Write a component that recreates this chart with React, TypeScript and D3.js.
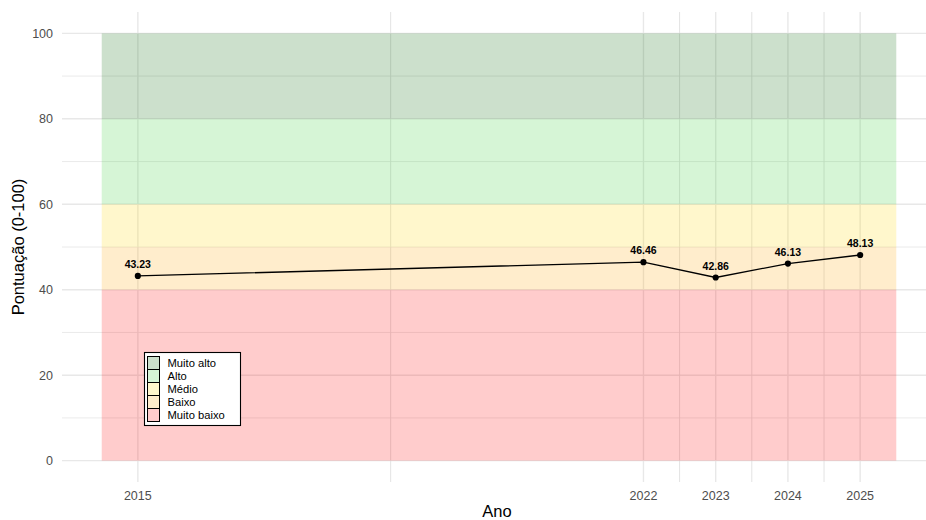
import * as d3 from "d3";

const years = [2015, 2022, 2023, 2024, 2025];
const scores = [43.23, 46.46, 42.86, 46.13, 48.13];

const bandNames = ["Muito alto", "Alto", "Médio", "Baixo", "Muito baixo"];
const bandMin = [80, 60, 50, 40, 0];
const bandMax = [100, 80, 60, 50, 40];
const bandColors = ["#006400", "#32cd32", "#ffd700", "#ffa500", "#ff0000"];

const yTicks = [0, 20, 40, 60, 80, 100];
const yMinor = [10, 30, 50, 70, 90];
const xMinor = [2018.5, 2022.5, 2023.5, 2024.5];

const width = 926;
const height = 520;
const panel = { left: 62, right: 936, top: 12, bottom: 482 };
const font = "Liberation Sans, Arial, sans-serif";

function App() {
  const x = d3
    .scaleLinear()
    .domain([2013.95, 2026.05])
    .range([panel.left, panel.right]);
  const y = d3.scaleLinear().domain([-5, 105]).range([panel.bottom, panel.top]);

  const line = d3
    .line<number>()
    .x((_, i) => x(years[i]))
    .y((d) => y(d));

  const grid = "#e8e8e8";

  return (
    <svg
      width={width}
      height={height}
      style={{ position: "absolute", left: 0, top: 0, fontFamily: font }}
    >
      <rect width={width} height={height} fill="white" />

      {/* grid */}
      {yMinor.map((v) => (
        <line key={"ym" + v} x1={panel.left} x2={panel.right} y1={y(v)} y2={y(v)} stroke={grid} strokeWidth={0.9} />
      ))}
      {yTicks.map((v) => (
        <line key={"y" + v} x1={panel.left} x2={panel.right} y1={y(v)} y2={y(v)} stroke={grid} strokeWidth={1.4} />
      ))}
      {xMinor.map((v) => (
        <line key={"xm" + v} x1={x(v)} x2={x(v)} y1={panel.top} y2={panel.bottom} stroke="#e0e0e0" strokeWidth={0.9} />
      ))}
      {years.map((v) => (
        <line key={"x" + v} x1={x(v)} x2={x(v)} y1={panel.top} y2={panel.bottom} stroke={grid} strokeWidth={1.4} />
      ))}

      {/* bands */}
      {bandNames.map((n, i) => (
        <rect
          key={n}
          x={x(2014.5)}
          width={x(2025.5) - x(2014.5)}
          y={y(bandMax[i])}
          height={y(bandMin[i]) - y(bandMax[i])}
          fill={bandColors[i]}
          fillOpacity={0.2}
        />
      ))}

      {/* series */}
      <path d={line(scores) ?? ""} fill="none" stroke="black" strokeWidth={1.3} />
      {scores.map((s, i) => (
        <g key={years[i]}>
          <circle cx={x(years[i])} cy={y(s)} r={3.1} fill="black" />
          <text
            x={x(years[i])}
            y={y(s) - 8}
            textAnchor="middle"
            fontSize={10.5}
            fontWeight="bold"
            fill="black"
          >
            {s.toFixed(2)}
          </text>
        </g>
      ))}

      {/* axes text */}
      {yTicks.map((v) => (
        <text key={"yl" + v} x={53} y={y(v)} dy="0.35em" textAnchor="end" fontSize={12.5} fill="#4d4d4d">
          {v}
        </text>
      ))}
      {years.map((v) => (
        <text key={"xl" + v} x={x(v)} y={500} textAnchor="middle" fontSize={12.5} fill="#4d4d4d">
          {v}
        </text>
      ))}
      <text x={(panel.left + panel.right) / 2 - 2} y={517} textAnchor="middle" fontSize={16.5} fill="black">
        Ano
      </text>
      <text
        transform={`translate(24,${(panel.top + panel.bottom) / 2}) rotate(-90)`}
        textAnchor="middle"
        fontSize={16.5}
        fill="black"
      >
        Pontuação (0-100)
      </text>

      {/* legend */}
      <g transform="translate(144.5,352.5)">
        <rect width={96} height={73} fill="white" stroke="black" strokeWidth={1.1} />
        {bandNames.map((n, i) => (
          <g key={"lg" + n} transform={`translate(3,${4 + i * 13})`}>
            <rect width={12} height={13} fill="white" />
            <rect
              width={12}
              height={13}
              fill={bandColors[i]}
              fillOpacity={0.2}
              stroke="black"
              strokeWidth={1}
            />
            <text x={20} y={6.5} dy="0.35em" fontSize={11.2} fill="black">
              {n}
            </text>
          </g>
        ))}
      </g>
    </svg>
  );
}

export default App;
